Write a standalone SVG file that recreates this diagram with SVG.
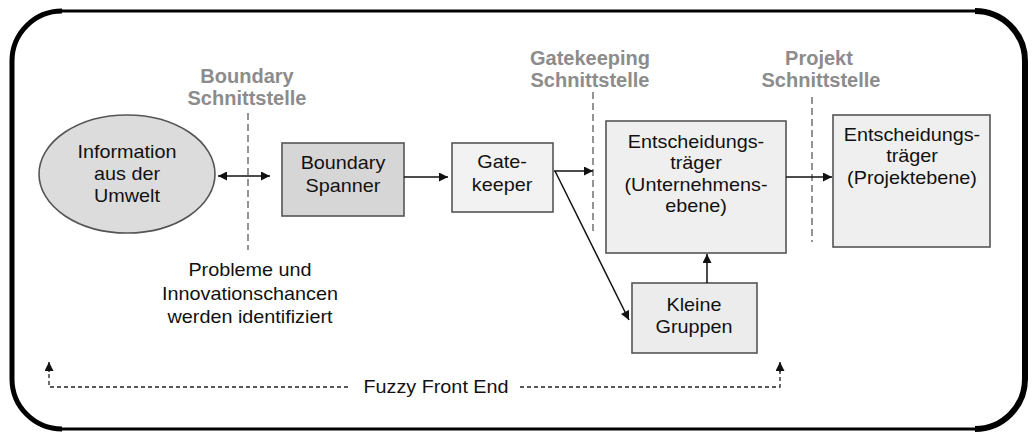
<svg xmlns="http://www.w3.org/2000/svg" width="1032" height="434" viewBox="0 0 1032 434">
  <style>
    .t { font-family: "Liberation Sans", Arial, sans-serif; font-size: 18px; fill: #111; text-anchor: middle; }
    .g { font-family: "Liberation Sans", Arial, sans-serif; font-size: 20px; font-weight: bold; fill: #8c8c8c; text-anchor: middle; }
    .box { stroke: #555; stroke-width: 1.6; }
    .conn { stroke: #111; stroke-width: 1.5; fill: none; }
    .sep { stroke: #7a7a7a; stroke-width: 1.6; stroke-dasharray: 7 4; fill: none; }
    .ffe { stroke: #222; stroke-width: 1.3; stroke-dasharray: 4 3; fill: none; }
  </style>
  <defs>
    <marker id="ah" viewBox="0 0 10 10" refX="10" refY="5" markerWidth="10" markerHeight="9" markerUnits="userSpaceOnUse" orient="auto-start-reverse">
      <path d="M0,0 L10,5 L0,10 z" fill="#111"/>
    </marker>
  </defs>
  <rect width="1032" height="434" fill="#ffffff"/>

  <g id="frame">
    <rect x="12" y="11" width="1013" height="418" rx="50" ry="50" fill="none" stroke="#000" stroke-width="3.2"/>
    <path d="M62,11 A50,50 0 0 0 12,61 L12,379 A50,50 0 0 0 62,429" fill="none" stroke="#000" stroke-width="5"/>
    <path d="M975,11 A50,50 0 0 1 1025,61 L1025,379 A50,50 0 0 1 975,429" fill="none" stroke="#000" stroke-width="6"/>
  </g>

  <g id="separators">
    <line class="sep" x1="248" y1="113" x2="248" y2="250"/>
    <line class="sep" x1="593" y1="92" x2="593" y2="233"/>
    <line class="sep" x1="812" y1="97" x2="812" y2="242"/>
  </g>

  <g id="label-boundary">
    <text class="g" x="247" y="83">Boundary</text>
    <text class="g" x="247" y="105">Schnittstelle</text>
  </g>
  <g id="label-gatekeeping">
    <text class="g" x="590" y="65">Gatekeeping</text>
    <text class="g" x="590" y="87">Schnittstelle</text>
  </g>
  <g id="label-projekt">
    <text class="g" x="819" y="65">Projekt</text>
    <text class="g" x="821" y="87">Schnittstelle</text>
  </g>

  <g id="node-umwelt">
    <ellipse cx="127" cy="174" rx="88" ry="59" fill="#dcdcdc" stroke="#555" stroke-width="1.6"/>
    <text class="t" transform="translate(127 0) scale(1.1 1)"><tspan x="0" y="158">Information</tspan><tspan x="0" y="180">aus der</tspan><tspan x="0" y="202">Umwelt</tspan></text>
  </g>

  <g id="node-spanner">
    <rect class="box" x="282" y="143" width="122" height="73" fill="#d6d6d6"/>
    <text class="t" transform="translate(343 0) scale(1.1 1)"><tspan x="0" y="169">Boundary</tspan><tspan x="0" y="192">Spanner</tspan></text>
  </g>

  <g id="node-gatekeeper">
    <rect class="box" x="452" y="143" width="101" height="69" fill="#f2f2f2"/>
    <text class="t" transform="translate(502 0) scale(1.1 1)"><tspan x="0" y="168">Gate-</tspan><tspan x="0" y="191">keeper</tspan></text>
  </g>

  <g id="node-unternehmen">
    <rect class="box" x="606" y="121" width="180" height="132" fill="#efefef"/>
    <text class="t" transform="translate(696 0) scale(1.1 1)"><tspan x="0" y="148">Entscheidungs-</tspan><tspan x="0" y="169.5">träger</tspan><tspan x="0" y="191">(Unternehmens-</tspan><tspan x="0" y="212.5">ebene)</tspan></text>
  </g>

  <g id="node-projekt">
    <rect class="box" x="833" y="115" width="157" height="132" fill="#efefef"/>
    <text class="t" transform="translate(912 0) scale(1.1 1)"><tspan x="0" y="141">Entscheidungs-</tspan><tspan x="0" y="162.5">träger</tspan><tspan x="0" y="184">(Projektebene)</tspan></text>
  </g>

  <g id="node-gruppen">
    <rect class="box" x="632" y="283" width="125" height="70" fill="#ececec"/>
    <text class="t" transform="translate(694 0) scale(1.1 1)"><tspan x="0" y="311">Kleine</tspan><tspan x="0" y="333">Gruppen</tspan></text>
  </g>

  <g id="note-probleme">
    <text class="t" transform="translate(250 0) scale(1.1 1)"><tspan x="0" y="276">Probleme und</tspan><tspan x="0" y="300">Innovationschancen</tspan><tspan x="0" y="323">werden identifiziert</tspan></text>
  </g>

  <g id="connectors">
    <line class="conn" x1="218" y1="176" x2="270" y2="176" marker-start="url(#ah)" marker-end="url(#ah)"/>
    <line class="conn" x1="404" y1="177" x2="448" y2="177" marker-end="url(#ah)"/>
    <line class="conn" x1="554" y1="171" x2="593" y2="171" marker-end="url(#ah)"/>
    <line class="conn" x1="555" y1="171" x2="629" y2="320" marker-end="url(#ah)"/>
    <line class="conn" x1="786" y1="177" x2="832" y2="177" marker-end="url(#ah)"/>
    <line class="conn" x1="707" y1="283" x2="707" y2="254" marker-end="url(#ah)"/>
  </g>

  <g id="fuzzy-front-end">
    <path class="ffe" d="M348,387 L49,387 L49,370"/>
    <path class="ffe" d="M520,387 L780,387 L780,370"/>
    <line x1="49" y1="372" x2="49" y2="362" stroke="#111" stroke-width="1.3" marker-end="url(#ah)"/>
    <line x1="780" y1="372" x2="780" y2="362" stroke="#111" stroke-width="1.3" marker-end="url(#ah)"/>
    <text class="t" transform="translate(436 0) scale(1.1 1)"><tspan x="0" y="393">Fuzzy Front End</tspan></text>
  </g>
</svg>
